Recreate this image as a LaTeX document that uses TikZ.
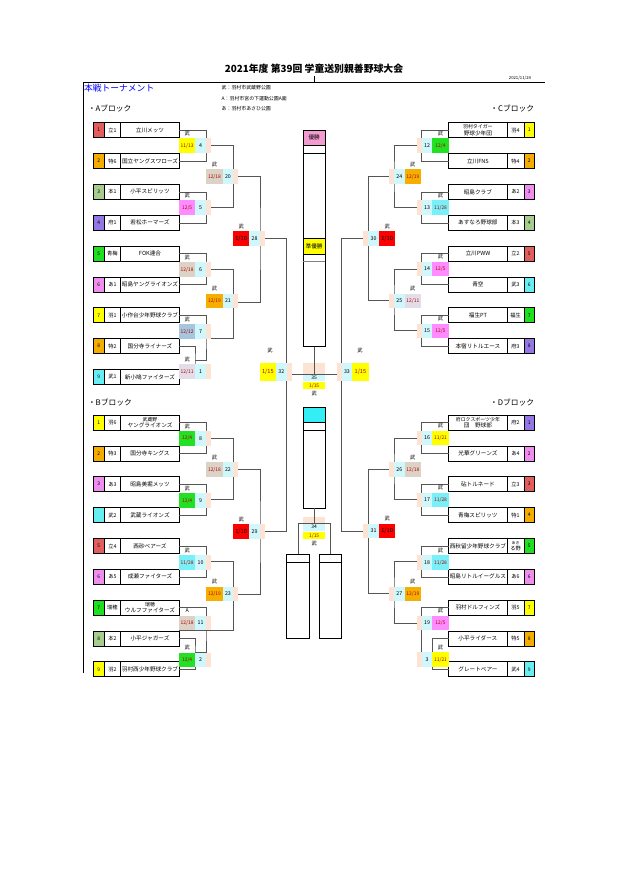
\documentclass[tikz,border=0pt]{standalone}
\usepackage{fontspec}
\setmainfont{Noto Sans CJK JP}
\usetikzlibrary{positioning}
\definecolor{sred}{HTML}{E35D5D}
\definecolor{sorange}{HTML}{F4AC00}
\definecolor{ssage}{HTML}{A6CC8E}
\definecolor{spurple}{HTML}{9476E4}
\definecolor{sgreen}{HTML}{1FE01F}
\definecolor{spink}{HTML}{EF8EEF}
\definecolor{syellow}{HTML}{FFFF00}
\definecolor{scyan}{HTML}{66EEF2}
\definecolor{dyellow}{HTML}{FFFF00}
\definecolor{dpink}{HTML}{FF8CFF}
\definecolor{dtan}{HTML}{DCD2C5}
\definecolor{dgreen}{HTML}{22E022}
\definecolor{dorange}{HTML}{F6AE00}
\definecolor{dcyan}{HTML}{77F0F7}
\definecolor{dred}{HTML}{FF0000}
\definecolor{dlav}{HTML}{E3DDE9}
\definecolor{dsteel}{HTML}{A5C6DC}
\definecolor{numcyan}{HTML}{CFF7FC}
\definecolor{peach}{HTML}{FCE3D4}
\definecolor{datered}{HTML}{B00000}
\definecolor{linegrey}{HTML}{555555}
\definecolor{champpink}{HTML}{F29BD0}
\definecolor{titleblue}{HTML}{0000FF}
\definecolor{thirdcyan}{HTML}{33EEF5}
\newcommand{\titlefont}{\fontsize{14}{16}\selectfont\bfseries}
\newcommand{\headfont}{\fontsize{12.5}{14}\selectfont}
\newcommand{\blockfont}{\fontsize{11}{12}\selectfont}
\newcommand{\legendfont}{\fontsize{7}{8}\selectfont}
\newcommand{\stampfont}{\fontsize{6}{7}\selectfont}
\newcommand{\teamfont}{\fontsize{8}{9}\selectfont}
\newcommand{\twolinefont}{\fontsize{7}{7.8}\selectfont}
\newcommand{\prefont}{\fontsize{7.5}{8}\selectfont}
\newcommand{\tinyprefont}{\fontsize{5.5}{6}\selectfont}
\newcommand{\seedfont}{\fontsize{7}{8}\selectfont}
\newcommand{\numfont}{\fontsize{7.5}{8}\selectfont}
\newcommand{\datefont}{\fontsize{7}{8}\selectfont}
\newcommand{\bigdatefont}{\fontsize{8}{9}\selectfont}
\newcommand{\venuefont}{\fontsize{7.5}{8}\selectfont}
\newcommand{\colfont}{\fontsize{8}{9}\selectfont}
% team rows: id, y, seed colour, seed, prefix, team name
\newcommand{\leftteam}[6]{%
  \node[seedcell,fill=#3] (#1s) at (98.65,#2) {#4};
  \node[precell] (#1p) at (112.35,#2) {#5};
  \node[teamcell] (#1) at (150,#2) {#6};}
\newcommand{\rightteam}[6]{%
  \node[teamcell] (#1) at (477.9,#2) {#6};
  \node[precell] (#1p) at (515.55,#2) {#5};
  \node[seedcell,fill=#3] (#1s) at (529.25,#2) {#4};}
% match boxes: number, x of bracket, y, date, colour, venue
\newcommand{\leftmatch}[6]{%
  \node[numbox,anchor=east] (n#1) at (#2,#3) {#1};
  \node[datebox,fill=#5,anchor=east] (d#1) at (n#1.west) {#4};
  \node[peachbox,anchor=west] (p#1) at (n#1.east) {};
  \node[venue] (v#1) at ([yshift=2.5mm]d#1.north) {#6};}
\newcommand{\rightmatch}[6]{%
  \node[numbox,anchor=west] (n#1) at (#2,#3) {#1};
  \node[datebox,fill=#5,anchor=west] (d#1) at (n#1.east) {#4};
  \node[peachbox,anchor=east] (p#1) at (n#1.west) {};
  \node[venue] (v#1) at ([yshift=2.5mm]d#1.north) {#6};}

\begin{document}
\begin{tikzpicture}[x=0.5mm,y=-0.5mm,
  every node/.style={inner sep=0pt,outer sep=0pt},
  brk/.style={draw=linegrey,line width=0.8pt},
  cellbox/.style={draw=black,line width=1.1pt,minimum height=7.5mm,align=center},
  seedcell/.style={cellbox,minimum width=5.35mm,font=\seedfont},
  precell/.style={cellbox,fill=white,minimum width=8.35mm,font=\prefont},
  teamcell/.style={cellbox,fill=white,minimum width=29.3mm,font=\teamfont},
  numbox/.style={fill=numcyan,minimum width=5.35mm,minimum height=7.25mm,font=\numfont},
  datebox/.style={minimum width=8.15mm,minimum height=7.25mm,font=\datefont,text=datered},
  peachbox/.style={fill=peach,minimum width=2.5mm,minimum height=7.25mm},
  venue/.style={font=\venuefont},
  colbox/.style={draw=black,line width=1.2pt,minimum width=10.85mm}]
\useasboundingbox (0,0) rectangle (621,878);

% heading
\node[font=\titlefont] (title) at (314,69) {2021年度 第39回 学童送別親善野球大会};
\node[font=\stampfont,anchor=east] (stamp) at (531,78) {2021/11/24};
\draw[line width=0.5pt] (314,76) -- (314,82.3);
\draw[line width=0.6pt] (83,82.3) -- (545,82.3);
\draw[line width=0.6pt] (83,82.3) -- (83,673);
\node[font=\headfont,text=titleblue,anchor=west] (head) at (84,88.5) {本戦トーナメント};
\node[font=\legendfont,anchor=west] (leg1) at (221.7,87.3) {武：羽村市武蔵野公園};
\node[font=\legendfont,anchor=west] (leg2) at (221.7,98.3) {A：羽村市宮の下運動公園A面};
\node[font=\legendfont,anchor=west] (leg3) at (221.7,108.3) {あ：羽村市あさひ公園};
\node[font=\blockfont,anchor=west] (blockA) at (88,108.3) {・Aブロック};
\node[font=\blockfont,anchor=east] (blockC) at (534,108.3) {・Cブロック};
\node[font=\blockfont,anchor=west] (blockB) at (88,402.7) {・Bブロック};
\node[font=\blockfont,anchor=east] (blockD) at (534,402.7) {・Dブロック};

% teams
\leftteam{A1}{130.2}{sred}{1}{立1}{立川メッツ}
\leftteam{A2}{161.1}{sorange}{2}{特6}{国立ヤングスワローズ}
\leftteam{A3}{191.9}{ssage}{3}{本1}{小平スピリッツ}
\leftteam{A4}{222.8}{spurple}{4}{府1}{若松ホーマーズ}
\leftteam{A5}{253.6}{sgreen}{5}{青梅}{FOK連合}
\leftteam{A6}{284.5}{spink}{6}{あ1}{昭島ヤングライオンズ}
\leftteam{A7}{315.3}{syellow}{7}{羽1}{小作台少年野球クラブ}
\leftteam{A8}{346.2}{sorange}{8}{特2}{国分寺ライナーズ}
\leftteam{A9}{377.0}{scyan}{9}{武1}{新小鳩ファイターズ}
\leftteam{B1}{422.5}{syellow}{1}{羽6}{\twolinefont 武蔵野\\ヤングライオンズ}
\leftteam{B2}{453.4}{sorange}{2}{特3}{国分寺キングス}
\leftteam{B3}{484.2}{spink}{3}{あ3}{昭島美堀メッツ}
\leftteam{B4}{515.1}{scyan}{}{武2}{武蔵ライオンズ}
\leftteam{B5}{545.9}{sred}{5}{立4}{西砂ベアーズ}
\leftteam{B6}{576.8}{spink}{6}{あ5}{成瀬ファイターズ}
\leftteam{B7}{607.6}{sgreen}{7}{瑞穂}{\twolinefont 瑞穂\\ウルフファイターズ}
\leftteam{B8}{638.5}{ssage}{8}{本2}{小平ジャガーズ}
\leftteam{B9}{669.3}{syellow}{9}{羽2}{羽村西少年野球クラブ}
\rightteam{C1}{130.2}{syellow}{1}{羽4}{\twolinefont 羽村タイガー\\野球少年団}
\rightteam{C2}{161.1}{sorange}{2}{特4}{立川FNS}
\rightteam{C3}{191.9}{spink}{3}{あ2}{昭島クラブ}
\rightteam{C4}{222.8}{ssage}{4}{本3}{あすなろ野球部}
\rightteam{C5}{253.6}{sred}{5}{立2}{立川PWW}
\rightteam{C6}{284.5}{scyan}{6}{武3}{青空}
\rightteam{C7}{315.3}{sgreen}{7}{福生}{福生PT}
\rightteam{C8}{346.2}{spurple}{8}{府3}{本宿リトルエース}
\rightteam{D1}{422.5}{spurple}{1}{府2}{\twolinefont 府ロクスポーツ少年\\団　野球部}
\rightteam{D2}{453.4}{spink}{2}{あ4}{光華グリーンズ}
\rightteam{D3}{484.2}{sred}{3}{立3}{砧トルネード}
\rightteam{D4}{515.1}{sorange}{4}{特1}{青梅スピリッツ}
\rightteam{D5}{545.9}{sgreen}{5}{\tinyprefont あき\\る野}{西秋留少年野球クラブ}
\rightteam{D6}{576.8}{spink}{6}{あ6}{昭島リトルイーグルス}
\rightteam{D7}{607.6}{syellow}{7}{羽5}{羽村ドルフィンズ}
\rightteam{D8}{638.5}{sorange}{8}{特5}{小平ライダース}
\rightteam{D9}{669.3}{scyan}{9}{武4}{グレートベアー}

% bracket corners
\coordinate (m4) at (206,145.65);
\coordinate (m5) at (206,207.35);
\coordinate (m6) at (206,269.05);
\coordinate (m1) at (195,360);
\coordinate (m7) at (206,338);
\coordinate (m20) at (233.3,176.5);
\coordinate (m21) at (233.3,302);
\coordinate (m28) at (260,238.3);
\coordinate (m8) at (206,437.95);
\coordinate (m9) at (206,499.65);
\coordinate (m10) at (206,561.35);
\coordinate (m2) at (195,652.7);
\coordinate (m11) at (206,630.2);
\coordinate (m22) at (233.3,468.8);
\coordinate (m23) at (233.3,594);
\coordinate (m29) at (260,531.7);
\coordinate (m32) at (286.7,374);
\coordinate (m12) at (421.7,145.65);
\coordinate (m13) at (421.7,207.35);
\coordinate (m14) at (421.7,269.05);
\coordinate (m15) at (421.7,330.75);
\coordinate (m24) at (394,176.5);
\coordinate (m25) at (394,300);
\coordinate (m30) at (368.3,238.3);
\coordinate (m16) at (421.7,437.95);
\coordinate (m17) at (421.7,499.65);
\coordinate (m18) at (421.7,561.35);
\coordinate (m3) at (432.7,653);
\coordinate (m19) at (421.7,623);
\coordinate (m26) at (394,468.8);
\coordinate (m27) at (394,593);
\coordinate (m31) at (368.3,531.7);
\coordinate (m33) at (341.6,374);
\coordinate (m34) at (314.15,523.3);

% centre columns
\node[colbox,minimum height=108.35mm] (fincol) at (314.15,238.35) {};
\node[colbox,fill=champpink,minimum height=7.5mm,font=\colfont] (champ) at (314.15,137.5) {優勝};
\draw[line width=1.1pt] (303.3,153.3) -- (325,153.3);
\node[colbox,fill=dyellow,minimum height=7.85mm,font=\colfont] (runner) at (314.15,246.15) {準優勝};
\draw[line width=0.8pt,draw=gray] (303.3,261.7) -- (325,261.7);
\node[colbox,minimum height=50.5mm] (thirdcol) at (314.15,457.8) {};
\node[colbox,fill=thirdcyan,minimum height=7.7mm] (third) at (314.15,415) {};
\draw[line width=1.1pt] (303.3,430.7) -- (325,430.7);
\node[colbox,minimum width=11.15mm,minimum height=42.15mm] (semil) at (297.85,596.15) {};
\node[colbox,minimum width=11.15mm,minimum height=42.15mm] (semir) at (330.5,596.15) {};
\draw[line width=1.1pt] (286.7,562.7) -- (309,562.7);
\draw[line width=1.1pt] (319.35,562.7) -- (341.65,562.7);
\node[fill=peach,minimum width=10.85mm,minimum height=5.65mm] (p35) at (314.15,368.35) {};
\node[fill=numcyan,minimum width=10.85mm,minimum height=3.35mm,font=\datefont] (n35) at (314.15,377.35) {35};
\node[fill=dyellow,minimum width=10.85mm,minimum height=3.8mm,font=\datefont,text=datered] (d35) at (314.15,385.5) {1/15};
\node[venue] (v35) at (314.15,393.3) {武};
\node[fill=peach,minimum width=10.85mm,minimum height=3.3mm] (p34) at (314.15,520) {};
\node[fill=numcyan,minimum width=10.85mm,minimum height=3.7mm,font=\datefont] (n34) at (314.15,527) {34};
\node[fill=dyellow,minimum width=10.85mm,minimum height=3.8mm,font=\datefont,text=datered] (d34) at (314.15,535.5) {1/15};
\node[venue] (v34) at (314.15,543.3) {武};

% A block
\draw[brk] (A1.east) -| (m4) |- (A2.east);
\draw[brk] (A3.east) -| (m5) |- (A4.east);
\draw[brk] (A5.east) -| (m6) |- (A6.east);
\draw[brk] (A8.east) -| (m1) |- (A9.east);
\draw[brk] (A7.east) -| (m7) |- (m1);
\draw[brk] (m4) -| (m20) |- (m5);
\draw[brk] (m6) -| (m21) |- (m7);
\draw[brk] (m20) -| (m28) |- (m21);
% B block
\draw[brk] (B1.east) -| (m8) |- (B2.east);
\draw[brk] (B3.east) -| (m9) |- (B4.east);
\draw[brk] (B5.east) -| (m10) |- (B6.east);
\draw[brk] (B8.east) -| (m2) |- (B9.east);
\draw[brk] (B7.east) -| (m11) |- (m2);
\draw[brk] (B8.east |- m11) -- (m11);
\draw[brk] (m8) -| (m22) |- (m9);
\draw[brk] (m10) -| (m23) |- (m11);
\draw[brk] (m22) -| (m29) |- (m23);
% C block
\draw[brk] (C1.west) -| (m12) |- (C2.west);
\draw[brk] (C3.west) -| (m13) |- (C4.west);
\draw[brk] (C5.west) -| (m14) |- (C6.west);
\draw[brk] (C7.west) -| (m15) |- (C8.west);
\draw[brk] (m12) -| (m24) |- (m13);
\draw[brk] (m14) -| (m25) |- (m15);
\draw[brk] (m24) -| (m30) |- (m25);
% D block
\draw[brk] (D1.west) -| (m16) |- (D2.west);
\draw[brk] (D3.west) -| (m17) |- (D4.west);
\draw[brk] (D5.west) -| (m18) |- (D6.west);
\draw[brk] (D8.west) -| (m3) |- (D9.west);
\draw[brk] (D7.west) -| (m19) |- (m3);
\draw[brk] (m16) -| (m26) |- (m17);
\draw[brk] (m18) -| (m27) |- (m19);
\draw[brk] (m26) -| (m31) |- (m27);
% final rounds
\draw[brk] (m28) -| (m32) |- (m29);
\draw[brk] (m30) -| (m33) |- (m31);
\draw[brk] (m32) -- (m33);
\draw[brk] (fincol.south) -- (fincol.south |- m32);
\draw[brk] (thirdcol.south) -- (m34);
\draw[brk] (semil.north) |- (m34) -| (semir.north);

% match boxes
\leftmatch{4}{206}{145.5}{11/13}{dyellow}{武}
\leftmatch{5}{206}{207.5}{12/5}{dpink}{武}
\leftmatch{6}{206}{269.7}{12/18}{dtan}{武}
\leftmatch{7}{206}{331.7}{12/12}{dsteel}{武}
\leftmatch{1}{206}{371.7}{12/11}{dlav}{武}
\leftmatch{20}{233.3}{176.7}{12/18}{dtan}{武}
\leftmatch{21}{233.3}{300.8}{12/19}{dorange}{武}
\leftmatch{28}{260}{238.5}{1/10}{dred,text=black,font=\bigdatefont}{武}
\leftmatch{8}{206}{438.3}{12/4}{dgreen}{武}
\leftmatch{9}{206}{500.5}{12/4}{dgreen}{武}
\leftmatch{10}{206}{562.5}{11/28}{dcyan}{武}
\leftmatch{11}{206}{623}{12/18}{dtan}{A}
\leftmatch{2}{206}{660}{12/4}{dgreen}{武}
\leftmatch{22}{233.3}{469.5}{12/18}{dtan}{武}
\leftmatch{23}{233.3}{593.8}{12/19}{dorange}{武}
\leftmatch{29}{260}{531.7}{1/10}{dred,text=black,font=\bigdatefont}{武}
\rightmatch{12}{421.7}{145.5}{12/4}{dgreen}{武}
\rightmatch{13}{421.7}{207.5}{11/28}{dcyan}{武}
\rightmatch{14}{421.7}{269}{12/5}{dpink}{武}
\rightmatch{15}{421.7}{331}{12/5}{dpink}{武}
\rightmatch{24}{394}{176.7}{12/19}{dorange}{武}
\rightmatch{25}{394}{300.8}{12/11}{dlav}{武}
\rightmatch{30}{368.3}{238.7}{1/10}{dred,text=black,font=\bigdatefont}{武}
\rightmatch{16}{421.7}{438}{11/21}{dyellow}{武}
\rightmatch{17}{421.7}{500}{11/28}{dcyan}{武}
\rightmatch{18}{421.7}{562.5}{11/28}{dcyan}{武}
\rightmatch{19}{421.7}{623}{12/5}{dpink}{武}
\rightmatch{3}{421.7}{659.5}{11/21}{dyellow}{武}
\rightmatch{26}{394}{469.5}{12/18}{dtan}{武}
\rightmatch{27}{394}{593.8}{12/19}{dorange}{武}
\rightmatch{31}{368.3}{531}{1/10}{dred,text=black,font=\bigdatefont}{武}
\node[numbox,minimum height=9.2mm,anchor=east] (n32) at (286.7,372) {32};
\node[datebox,fill=dyellow,minimum height=9.2mm,font=\bigdatefont,anchor=east] (d32) at (n32.west) {1/15};
\node[peachbox,minimum height=9.2mm,anchor=west] (p32) at (n32.east) {};
\node[venue] (v32) at (270,351) {武};
\node[numbox,minimum height=9.2mm,anchor=west] (n33) at (341.6,372) {33};
\node[datebox,fill=dyellow,minimum height=9.2mm,font=\bigdatefont,anchor=west] (d33) at (n33.east) {1/15};
\node[peachbox,minimum height=9.2mm,anchor=east] (p33) at (n33.west) {};
\node[venue] (v33) at (360,351) {武};
\end{tikzpicture}
\end{document}
